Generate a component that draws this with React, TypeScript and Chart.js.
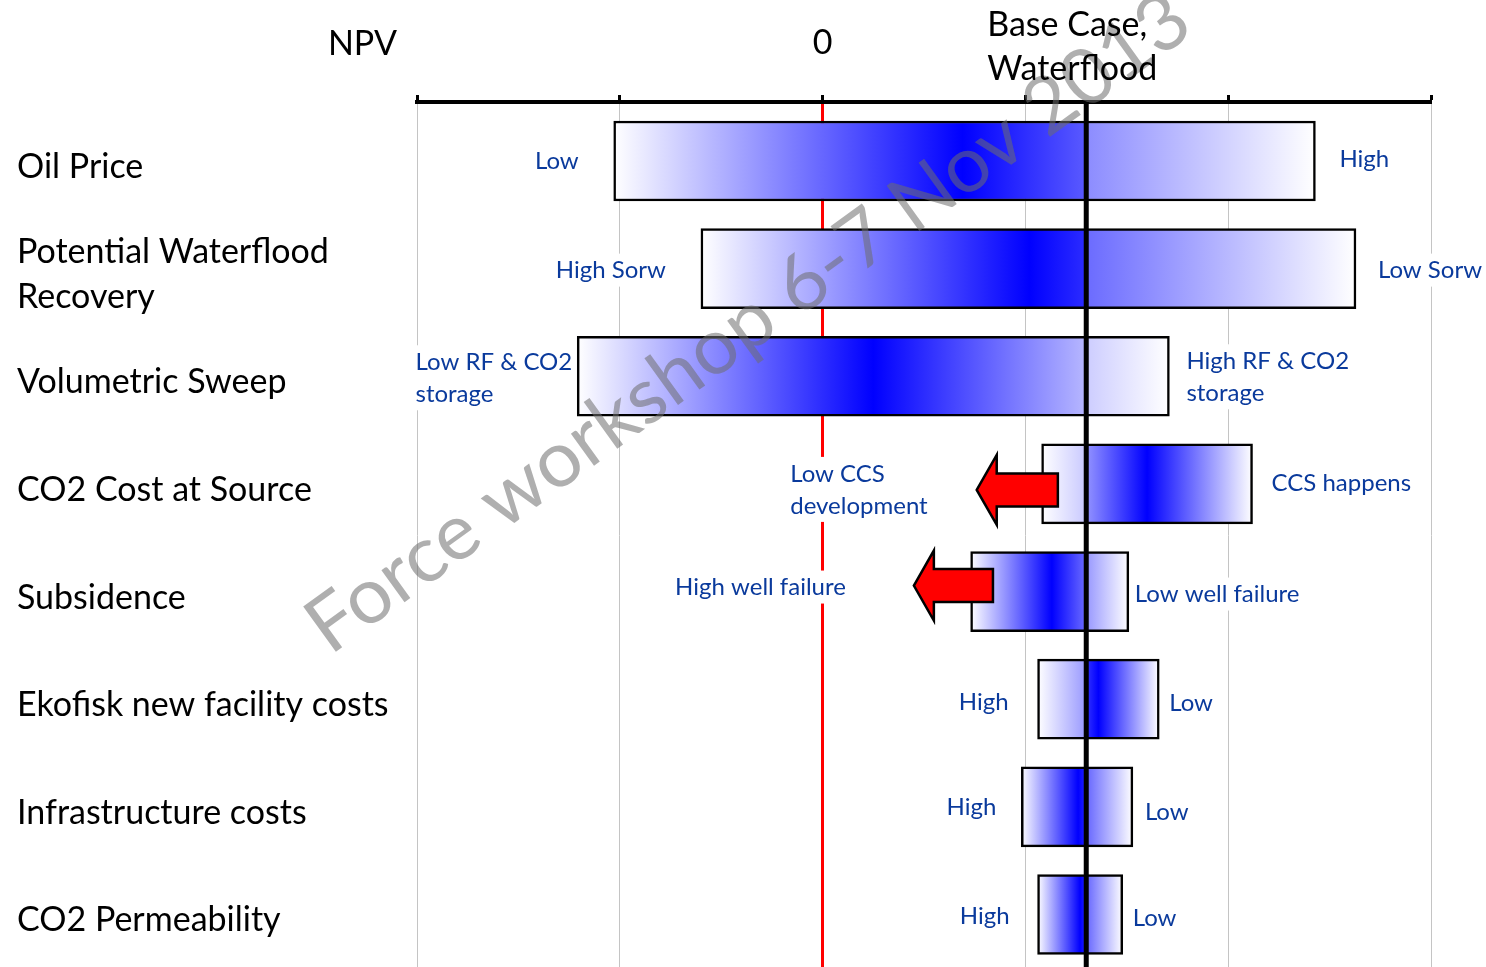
import React, { useEffect, useRef } from 'react';
import { Chart, registerables } from 'chart.js';

Chart.register(...registerables);

// Sensitivity factors (top to bottom) and their NPV range (one grid step = 1 unit)
const factors: (string | string[])[] = [
  'Oil Price',
  ['Potential Waterflood', 'Recovery'],
  'Volumetric Sweep',
  'CO2 Cost at Source',
  'Subsidence',
  'Ekofisk new facility costs',
  'Infrastructure costs',
  'CO2 Permeability',
];
const lowNpv = [-1.03, -0.6, -1.21, 1.08, 0.73, 1.06, 0.98, 1.06];
const highNpv = [2.43, 2.63, 1.71, 2.12, 1.51, 1.66, 1.53, 1.48];
const peakNpv = [0.69, 1.02, 0.25, 1.6, 1.13, 1.36, 1.26, 1.27];
const baseCaseNpv = 1.3;

// Downside that may extend further than the bar shows
const arrowFrom: (number | null)[] = [null, null, null, 1.16, 0.84, null, null, null];
const arrowTo: (number | null)[] = [null, null, null, 0.76, 0.45, null, null, null];

const leftLabels: (string | string[])[] = [
  'Low',
  'High Sorw',
  ['Low RF & CO2', 'storage'],
  ['Low CCS', 'development'],
  'High well failure',
  'High',
  'High',
  'High',
];
const rightLabels: (string | string[])[] = [
  'High',
  'Low Sorw',
  ['High RF & CO2', 'storage'],
  'CCS happens',
  'Low well failure',
  'Low',
  'Low',
  'Low',
];

const npvMin = -2;
const npvMax = 3;
const zeroTickLabel = '0';
const watermarkText = 'Force workshop 6-7 Nov 2013';

// Label placement (pixels): gap from bar end / arrow tip, vertical nudge
const leftGap = [35, 35, 5, 49, 68, 29, 25, 28];
const rightGap = [24, 22, 17, 19, 6, 10, 12, 10];
const leftDy = [0, 2, 2, 6, -4, 3, 0, 2];
const rightDy = [-2, 2, 1, -1, 3, 4, 5, 4];
const arrowDy = [0, 0, 0, 6, -6, 0, 0, 0];

const FONT = 'Lato, "Open Sans", sans-serif';
const LABEL_BLUE = '#0a3a9c';

function shade(f: number) {
  const c = Math.round(255 * Math.max(0, Math.min(1, f)));
  return `rgb(${c},${c},255)`;
}

function barGradient(ctx: any) {
  const chart = ctx.chart;
  const i = ctx.dataIndex;
  const xs = chart.scales && chart.scales.x;
  if (!xs || !chart.chartArea || i == null) return '#8080ff';
  const lo = xs.getPixelForValue(lowNpv[i]);
  const hi = xs.getPixelForValue(highNpv[i]);
  const pk = xs.getPixelForValue(peakNpv[i]);
  const bs = xs.getPixelForValue(baseCaseNpv);
  const span = hi - lo;
  const t = (p: number) => Math.min(1, Math.max(0, (p - lo) / span));
  const g = chart.ctx.createLinearGradient(lo, 0, hi, 0);
  g.addColorStop(0, '#ffffff');
  if (pk <= bs) {
    const f = Math.min(1, (bs - pk) / (pk - lo));
    g.addColorStop(t(pk), '#0000ff');
    g.addColorStop(t(bs), shade(f));
    g.addColorStop(Math.min(1, t(bs) + 0.001), shade(f + (1 - f) * 0.3));
  } else {
    const f = Math.min(1, (pk - bs) / (hi - pk));
    g.addColorStop(Math.max(0, t(bs) - 0.001), shade(f + (1 - f) * 0.5));
    g.addColorStop(t(bs), shade(f));
    g.addColorStop(t(pk), '#0000ff');
  }
  g.addColorStop(1, '#ffffff');
  return g;
}

function drawLabelBlock(
  c: CanvasRenderingContext2D,
  label: string | string[],
  x: number,
  cy: number,
  anchorRight: boolean
) {
  const lines = Array.isArray(label) ? label : [label];
  const lineH = 32;
  c.font = `24px ${FONT}`;
  const w = Math.max(...lines.map((l) => c.measureText(l).width));
  const left = anchorRight ? x - w : x;
  const first = cy - ((lines.length - 1) * lineH) / 2;
  const last = first + (lines.length - 1) * lineH;
  c.fillStyle = '#ffffff';
  c.fillRect(left - 8, first - 17, w + 16, last - first + 33);
  c.fillStyle = LABEL_BLUE;
  c.textAlign = 'left';
  c.textBaseline = 'middle';
  lines.forEach((l, k) => c.fillText(l, left, first + k * lineH));
}

const overlayPlugin = {
  id: 'tornadoOverlay',
  beforeDatasetsDraw(chart: any) {
    const c = chart.ctx as CanvasRenderingContext2D;
    const xs = chart.scales.x;
    const ys = chart.scales.y;
    c.save();
    factors.forEach((_, i) => {
      const cy = ys.getPixelForValue(i);
      const leftEnd = arrowTo[i] != null ? (arrowTo[i] as number) : lowNpv[i];
      drawLabelBlock(c, leftLabels[i], xs.getPixelForValue(leftEnd) - leftGap[i], cy + leftDy[i], true);
      drawLabelBlock(c, rightLabels[i], xs.getPixelForValue(highNpv[i]) + rightGap[i], cy + rightDy[i], false);
    });
    c.restore();
  },
  afterDatasetsDraw(chart: any) {
    const c = chart.ctx as CanvasRenderingContext2D;
    const xs = chart.scales.x;
    const ys = chart.scales.y;
    const area = chart.chartArea;

    // watermark
    c.save();
    c.translate(330, 656);
    c.rotate((-35.8 * Math.PI) / 180);
    c.font = `78px ${FONT}`;
    const tw = c.measureText(watermarkText).width;
    c.scale(1068 / tw, 1);
    c.fillStyle = 'rgba(110,110,110,0.55)';
    c.textBaseline = 'alphabetic';
    c.textAlign = 'left';
    c.fillText(watermarkText, 0, 0);
    c.restore();

    // base case line
    const bx = xs.getPixelForValue(baseCaseNpv);
    c.save();
    c.strokeStyle = '#000';
    c.lineWidth = 5;
    c.beginPath();
    c.moveTo(bx, area.top);
    c.lineTo(bx, area.bottom);
    c.stroke();
    c.restore();

    // arrows
    c.save();
    factors.forEach((_, i) => {
      if (arrowFrom[i] == null || arrowTo[i] == null) return;
      const tail = xs.getPixelForValue(arrowFrom[i] as number);
      const tip = xs.getPixelForValue(arrowTo[i] as number);
      const cy = ys.getPixelForValue(i) + arrowDy[i];
      const headLen = 20;
      const headHalf = 35;
      const bodyHalf = 16.5;
      c.beginPath();
      c.moveTo(tip, cy);
      c.lineTo(tip + headLen, cy - headHalf);
      c.lineTo(tip + headLen, cy - bodyHalf);
      c.lineTo(tail, cy - bodyHalf);
      c.lineTo(tail, cy + bodyHalf);
      c.lineTo(tip + headLen, cy + bodyHalf);
      c.lineTo(tip + headLen, cy + headHalf);
      c.closePath();
      c.fillStyle = '#ff0000';
      c.fill();
      c.lineWidth = 2.5;
      c.lineJoin = 'miter';
      c.strokeStyle = '#000';
      c.stroke();
    });
    c.restore();
  },
  afterDraw(chart: any) {
    const c = chart.ctx as CanvasRenderingContext2D;
    const xs = chart.scales.x;
    const bx = xs.getPixelForValue(baseCaseNpv);
    c.save();
    c.font = `34px ${FONT}`;
    c.fillStyle = '#000';
    c.textBaseline = 'middle';
    c.textAlign = 'right';
    c.fillText('NPV', 397, 44);
    c.textAlign = 'left';
    c.fillText('Base Case,', bx - 99, 25);
    c.fillText('Waterflood', bx - 99, 69);
    c.restore();
  },
};

export default function App() {
  const canvasRef = useRef<HTMLCanvasElement | null>(null);

  useEffect(() => {
    if (!canvasRef.current) return;
    Chart.defaults.font.family = FONT;
    const chart = new Chart(canvasRef.current, {
      type: 'bar',
      data: {
        datasets: [
          {
            data: factors.map((_, i) => ({ x: [lowNpv[i], highNpv[i]], y: i })) as any,
            backgroundColor: barGradient as any,
            borderColor: '#000',
            borderWidth: 2.5,
            borderSkipped: false,
            barThickness: 80,
          },
        ],
      },
      options: {
        indexAxis: 'y',
        animation: false,
        responsive: false,
        events: [],
        layout: { padding: { left: 17, right: 55, top: 0, bottom: 0 } },
        plugins: {
          legend: { display: false },
          tooltip: { enabled: false },
        },
        scales: {
          x: {
            type: 'linear',
            position: 'top',
            min: npvMin,
            max: npvMax,
            afterFit: (s: any) => {
              s.height = 102;
              s.paddingLeft = 0;
              s.paddingRight = 0;
            },
            ticks: {
              stepSize: 1,
              autoSkip: false,
              maxRotation: 0,
              padding: 32,
              color: '#000',
              font: { size: 34, family: FONT },
              callback: (v: any) => (Number(v) === 0 ? zeroTickLabel : ''),
            },
            grid: {
              color: (c: any) => (c.tick && c.tick.value === 0 ? '#ff0000' : '#c4c4c4'),
              lineWidth: (c: any) => (c.tick && c.tick.value === 0 ? 3 : 1),
              tickColor: '#000',
              tickWidth: 3,
              tickLength: 7,
            },
            border: { display: true, color: '#000', width: 4 },
          },
          y: {
            type: 'linear',
            reverse: true,
            offset: false,
            min: -0.548,
            max: 7.488,
            afterBuildTicks: (s: any) => {
              s.ticks = factors.map((_, i) => ({ value: i }));
            },
            afterFit: (s: any) => {
              s.width = 400;
              s.paddingTop = 0;
              s.paddingBottom = 0;
            },
            grid: { display: false },
            border: { display: false },
            ticks: {
              autoSkip: false,
              crossAlign: 'far',
              labelOffset: 6,
              color: '#000',
              font: { size: 34, family: FONT, lineHeight: 1.32 },
              callback: (v: any) => factors[Math.round(Number(v))] as any,
            },
          },
        },
      },
      plugins: [overlayPlugin],
    });
    return () => chart.destroy();
  }, []);

  return (
    <div style={{ position: 'absolute', left: 0, top: 0, width: 1486, height: 967, background: '#fff' }}>
      <canvas ref={canvasRef} width={1486} height={967} style={{ display: 'block' }} />
    </div>
  );
}
